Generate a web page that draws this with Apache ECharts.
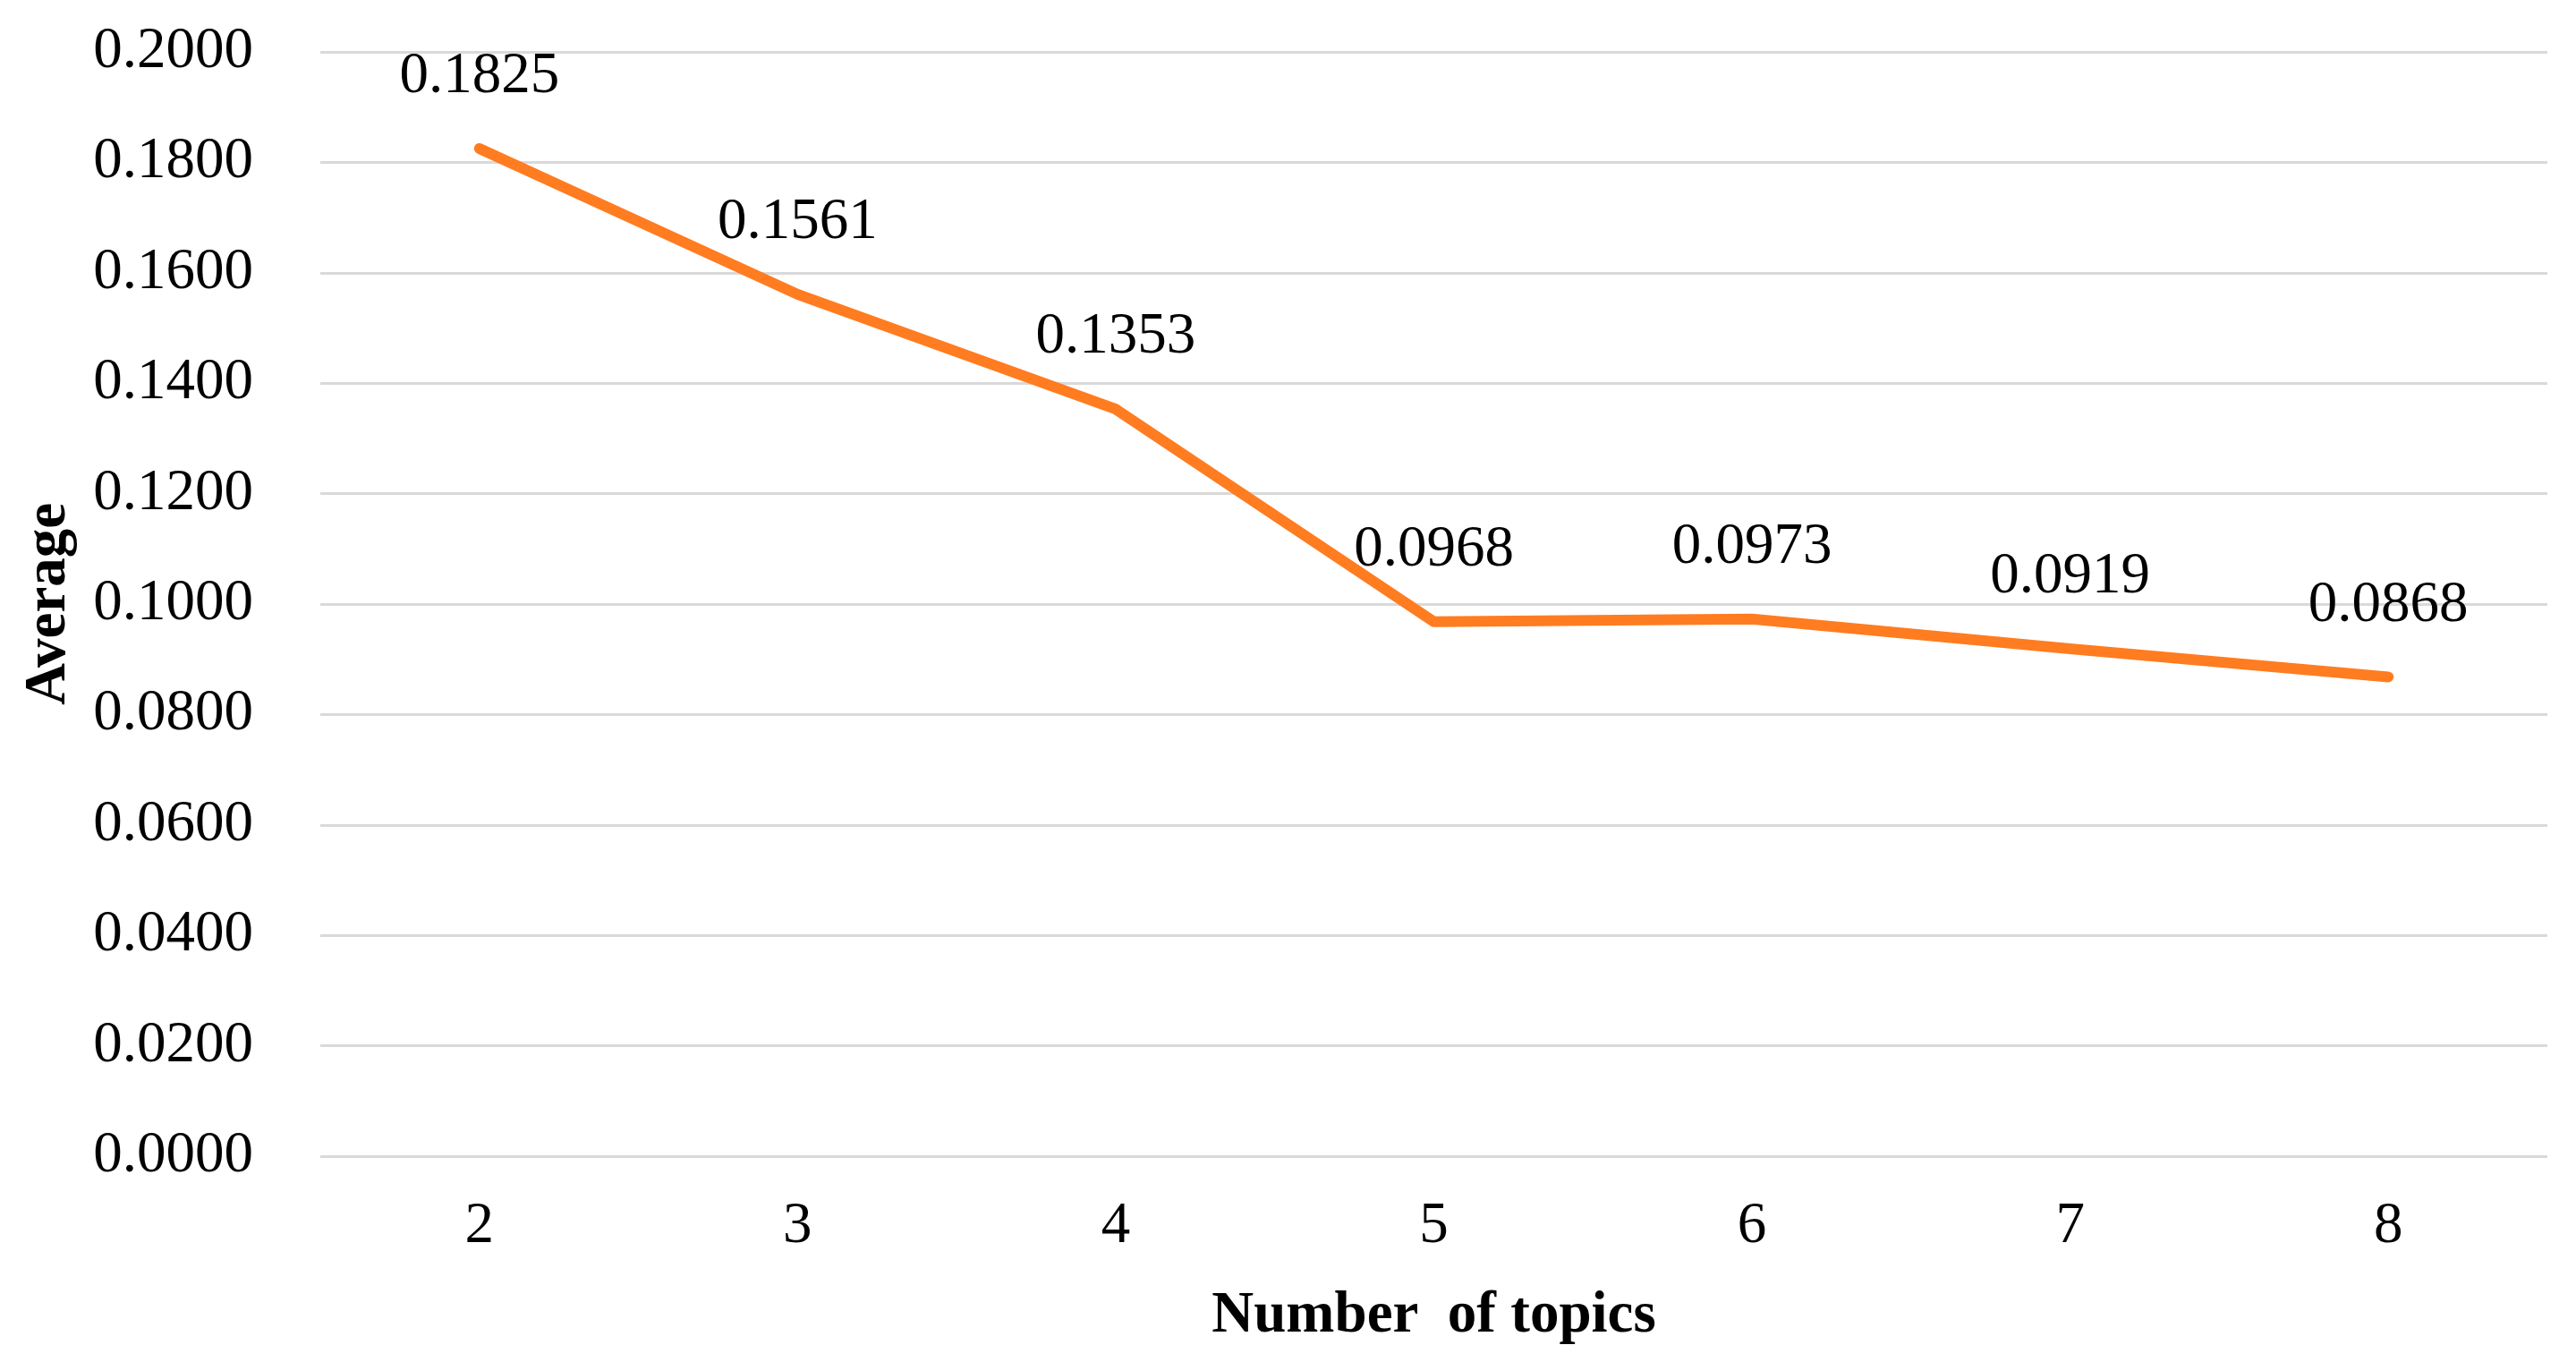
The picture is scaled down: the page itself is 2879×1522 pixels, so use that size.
<!DOCTYPE html>
<html>
<head>
<meta charset="utf-8">
<script src="https://cdn.jsdelivr.net/npm/echarts@6/dist/echarts.min.js"></script>
<style>
  html, body { margin: 0; padding: 0; background: #ffffff; }
  #chart { width: 2879px; height: 1522px; }
</style>
</head>
<body>
<div id="chart"></div>
<script>
const categories = ['2', '3', '4', '5', '6', '7', '8'];
const averageValues = [0.1825, 0.1561, 0.1353, 0.0968, 0.0973, 0.0919, 0.0868];
const yTicks = { min: 0, max: 0.2, interval: 0.02 };
const xTitle = 'Number  of topics';
const yTitle = 'Average';

const FONT = "'Liberation Serif', 'Times New Roman', serif";
const chart = echarts.init(document.getElementById('chart'), null, { renderer: 'canvas' });

chart.setOption({
  animation: false,
  backgroundColor: '#ffffff',
  grid: { left: 358, right: 32, top: 58, bottom: 230, containLabel: false },
  xAxis: {
    type: 'category',
    data: categories,
    boundaryGap: true,
    axisLine: { show: false },
    axisTick: { show: false },
    splitLine: { show: false },
    axisLabel: { color: '#000', fontFamily: FONT, fontSize: 65, margin: 46 },
    name: xTitle,
    nameLocation: 'middle',
    nameGap: 147,
    nameTextStyle: { color: '#000', fontFamily: FONT, fontSize: 65, fontWeight: 'bold' }
  },
  yAxis: {
    type: 'value',
    min: yTicks.min,
    max: yTicks.max,
    interval: yTicks.interval,
    axisLine: { show: false },
    axisTick: { show: false },
    splitLine: { show: true, lineStyle: { color: '#D9D9D9', width: 3 } },
    axisLabel: {
      color: '#000', fontFamily: FONT, fontSize: 65, margin: 75,
      formatter: v => v.toFixed(4)
    },
    name: yTitle,
    nameLocation: 'middle',
    nameGap: 270,
    nameRotate: 90,
    nameTextStyle: { color: '#000', fontFamily: FONT, fontSize: 65, fontWeight: 'bold' }
  },
  series: [{
    type: 'line',
    data: averageValues,
    symbol: 'circle',
    symbolSize: 1,
    showSymbol: true,
    itemStyle: { color: '#FF7C20' },
    lineStyle: { color: '#FF7C20', width: 12, join: 'round', cap: 'round' },
    label: {
      show: true,
      position: 'top',
      distance: 47,
      color: '#000',
      fontFamily: FONT,
      fontSize: 65,
      formatter: p => p.value.toFixed(4)
    }
  }]
});
</script>
</body>
</html>
